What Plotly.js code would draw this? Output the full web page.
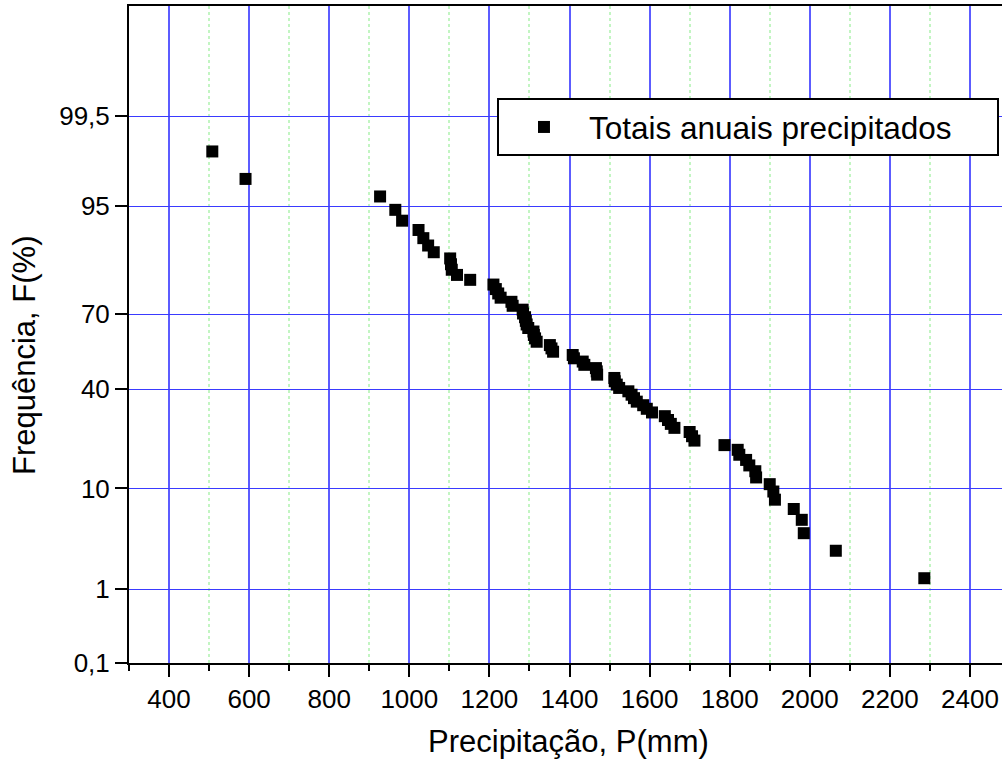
<!DOCTYPE html>
<html>
<head>
<meta charset="utf-8">
<script src="https://cdn.plot.ly/plotly-3.0.1.min.js"></script>
<style>html,body{margin:0;padding:0;background:#fff;}#chart{width:1002px;height:763px;}</style>
</head>
<body>
<div id="chart"></div>
<script>
// Annual precipitation totals (mm), sorted ascending
const precipitacao = [508, 591, 927, 965, 982, 1023, 1035, 1047, 1061, 1102, 1104, 1106, 1119, 1152,
  1210, 1216, 1222, 1228, 1255, 1258, 1283, 1284, 1289, 1291, 1293, 1297, 1310, 1311, 1314, 1318,
  1351, 1355, 1359, 1408, 1411, 1433, 1437, 1466, 1468, 1469, 1512, 1513, 1518, 1524, 1547, 1555,
  1561, 1568, 1584, 1593, 1606, 1638, 1646, 1653, 1662, 1700, 1706, 1712, 1787, 1820, 1824, 1841,
  1849, 1864, 1866, 1900, 1909, 1913, 1960, 1980, 1985, 2065, 2286];
// Frequency F (%)
const frequencia = [98.65, 97.30, 95.95, 94.59, 93.24, 91.89, 90.54, 89.19, 87.84, 86.49, 85.14, 83.78,
  82.43, 81.08, 79.73, 78.38, 77.03, 75.68, 74.32, 72.97, 71.62, 70.27, 68.92, 67.57, 66.22, 64.86,
  63.51, 62.16, 60.81, 59.46, 58.11, 56.76, 55.41, 54.05, 52.70, 51.35, 50.00, 48.65, 47.30, 45.95,
  44.59, 43.24, 41.89, 40.54, 39.19, 37.84, 36.49, 35.14, 33.78, 32.43, 31.08, 29.73, 28.38, 27.03,
  25.68, 24.32, 22.97, 21.62, 20.27, 18.92, 17.57, 16.22, 14.86, 13.51, 12.16, 10.81, 9.46, 8.11,
  6.76, 5.41, 4.05, 2.70, 1.35];
const yTickValsPct = [0.1, 1, 10, 40, 70, 95, 99.5];
const yTickText = ['0,1', '1', '10', '40', '70', '95', '99,5'];
const yRangePct = [0.1, 99.99];
const xTickVals = [400, 600, 800, 1000, 1200, 1400, 1600, 1800, 2000, 2200, 2400];
const xRange = [300, 2480];
const serieNome = 'Totais anuais precipitados';

// normal probability scale (inverse standard normal CDF)
function normInv(p) {
  const a=[-3.969683028665376e+01,2.209460984245205e+02,-2.759285104469687e+02,1.383577518672690e+02,-3.066479806614716e+01,2.506628277459239e+00];
  const b=[-5.447609879822406e+01,1.615858368580409e+02,-1.556989798598866e+02,6.680131188771972e+01,-1.328068155288572e+01];
  const c=[-7.784894002430293e-03,-3.223964580411365e-01,-2.400758277161838e+00,-2.549732539343734e+00,4.374664141464968e+00,2.938163982698783e+00];
  const d=[7.784695709041462e-03,3.224671290700398e-01,2.445134137142996e+00,3.754408661907416e+00];
  const plow=0.02425, phigh=1-plow; let q, r;
  if (p < plow) { q=Math.sqrt(-2*Math.log(p)); return (((((c[0]*q+c[1])*q+c[2])*q+c[3])*q+c[4])*q+c[5])/((((d[0]*q+d[1])*q+d[2])*q+d[3])*q+1); }
  if (p > phigh) { q=Math.sqrt(-2*Math.log(1-p)); return -(((((c[0]*q+c[1])*q+c[2])*q+c[3])*q+c[4])*q+c[5])/((((d[0]*q+d[1])*q+d[2])*q+d[3])*q+1); }
  q=p-0.5; r=q*q;
  return (((((a[0]*r+a[1])*r+a[2])*r+a[3])*r+a[4])*r+a[5])*q/(((((b[0]*r+b[1])*r+b[2])*r+b[3])*r+b[4])*r+1);
}
const z = v => normInv(v / 100);

const FONT = '"Liberation Sans", Arial, sans-serif';
const trace = {
  type: 'scatter', mode: 'markers', name: serieNome,
  x: precipitacao, y: frequencia.map(z), customdata: frequencia,
  hovertemplate: 'P=%{x} mm<br>F=%{customdata}%<extra></extra>',
  marker: { symbol: 'square', size: 12, color: '#000', line: { width: 0 } }
};

const layout = {
  width: 1002, height: 763,
  margin: { l: 129, r: 0, t: 6, b: 100, pad: 0 },
  paper_bgcolor: '#fff', plot_bgcolor: '#fff',
  font: { family: FONT, color: '#000', size: 26 },
  showlegend: true,
  legend: {
    orientation: 'h',
    x: 0.4215, y: 0.8600, xanchor: 'left', yanchor: 'top',
    bgcolor: '#fff', bordercolor: '#000', borderwidth: 2,
    font: { family: FONT, size: 31.5, color: '#000' }, itemwidth: 80,
    entrywidth: 403, entrywidthmode: 'pixels'
  },
  xaxis: {
    range: xRange, tickmode: 'array', tickvals: xTickVals,
    ticks: 'outside', ticklen: 12, tickwidth: 2, tickcolor: '#000',
    showline: true, linewidth: 2, linecolor: '#000', mirror: true,
    showgrid: true, gridcolor: '#5c5cff', gridwidth: 2, zeroline: false,
    tickfont: { family: FONT, size: 26, color: '#000' },
    minor: { dtick: 100, tick0: 0, ticks: 'outside', ticklen: 6, tickwidth: 2, tickcolor: '#000',
             showgrid: true, gridcolor: '#c2f5c2', griddash: 'dot', gridwidth: 2 }
  },
  yaxis: {
    range: yRangePct.map(z), tickmode: 'array', tickvals: yTickValsPct.map(z), ticktext: yTickText,
    ticks: 'outside', ticklen: 12, tickwidth: 2, tickcolor: '#000',
    showline: true, linewidth: 2, linecolor: '#000', mirror: false,
    showgrid: true, gridcolor: '#3a3aff', gridwidth: 1, zeroline: false,
    tickfont: { family: FONT, size: 26, color: '#000' }
  },
  annotations: [
    { text: 'Precipitação, P(mm)', xref: 'paper', yref: 'paper', x: 0.504, y: -0.1202,
      xanchor: 'center', yanchor: 'middle', showarrow: false, font: { family: FONT, size: 31, color: '#000' } },
    { text: 'Frequência, F(%)', xref: 'paper', yref: 'paper', x: -0.1191, y: 0.4673, textangle: -90,
      xanchor: 'center', yanchor: 'middle', showarrow: false, font: { family: FONT, size: 31, color: '#000' } }
  ]
};

Plotly.newPlot('chart', [trace], layout, { displayModeBar: false, staticPlot: true });
</script>
</body>
</html>
